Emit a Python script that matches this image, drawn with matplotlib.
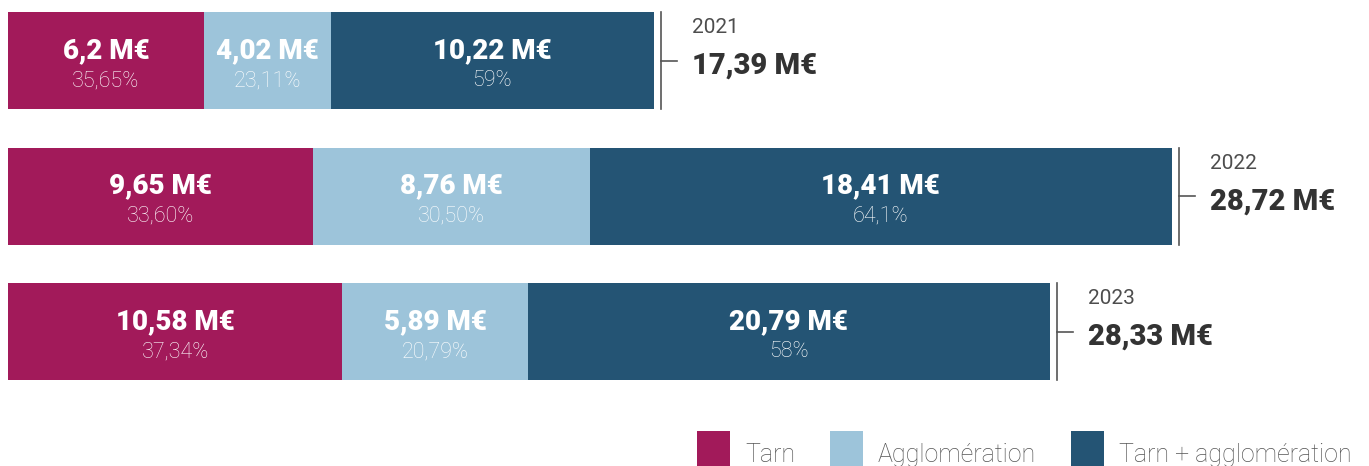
import matplotlib
matplotlib.use("Agg")
import matplotlib.pyplot as plt
from matplotlib.patches import Rectangle

# data
years = ["2021", "2022", "2023"]
series = ["Tarn", "Agglomération", "Tarn + agglomération"]
colors = ["#A21A5A", "#9DC4DA", "#245474"]
# bar lengths as drawn (M€)
tarn = [6.2, 9.65, 10.58]
agglo = [4.02, 8.76, 5.89]
tarn_agglo = [10.22, 18.41, 16.49]
# labels as printed
amount_labels = [["6,2 M€", "4,02 M€", "10,22 M€"],
                 ["9,65 M€", "8,76 M€", "18,41 M€"],
                 ["10,58 M€", "5,89 M€", "20,79 M€"]]
pct_labels = [["35,65%", "23,11%", "59%"],
              ["33,60%", "30,50%", "64,1%"],
              ["37,34%", "20,79%", "58%"]]
totals = ["17,39 M€", "28,72 M€", "28,33 M€"]

W, H = 1369, 466
fig = plt.figure(figsize=(W / 100, H / 100), dpi=100)
ax = fig.add_axes([0, 0, 1, 1])
px = 31.6  # pixels per M€
ax.set_xlim(-8 / px, (W - 8) / px)
ax.set_ylim((H - 60.5) / 135.5, -60.5 / 135.5)
ax.axis("off")

bar_h = 97 / 135.5
rows = list(zip(tarn, agglo, tarn_agglo))
for i, vals in enumerate(rows):
    left = 0
    for j, v in enumerate(vals):
        ax.barh(i, v, left=left, height=bar_h, color=colors[j], linewidth=0)
        cx = left + v / 2
        ax.text(cx, i - 0.02, amount_labels[i][j], ha="center", va="baseline",
                color="white", fontsize=20, family="Roboto", fontweight="black")
        ax.text(cx, i + 0.19, pct_labels[i][j], ha="center", va="baseline",
                color="white", fontsize=15.5, family="Roboto", fontweight="light")
        left += v
    # total bracket
    xl = left + 7 / px
    ax.plot([xl, xl], [i - bar_h / 2, i + bar_h / 2], color="#555555", lw=1.2)
    ax.plot([xl, xl + 16 / px], [i, i], color="#555555", lw=1.2)
    ax.text(xl + 31 / px, i - 0.2, years[i], ha="left", va="baseline",
            color="#4d4d4d", fontsize=15, family="Roboto", fontweight="normal")
    ax.text(xl + 31 / px, i + 0.1, totals[i], ha="left", va="baseline",
            color="#333333", fontsize=21, family="Roboto", fontweight="black")

# legend
leg_x = [697, 830, 1071]
for k, name in enumerate(series):
    fig.patches.append(Rectangle((leg_x[k] / W, (H - 466) / H), 33 / W, 35 / H,
                                 transform=fig.transFigure, color=colors[k], lw=0))
    fig.text((leg_x[k] + 48) / W, (H - 462) / H, name, ha="left", va="baseline",
             color="#555555", fontsize=18, family="Roboto", fontweight="light")

fig.savefig("out.png", dpi=100)
